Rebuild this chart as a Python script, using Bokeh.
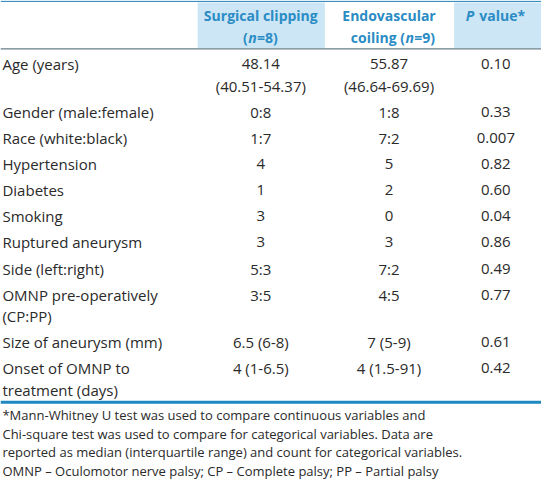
from bokeh.plotting import figure
from bokeh.models import Range1d
from bokeh.core.properties import value
from bokeh.embed import file_html
from bokeh.resources import INLINE

# ---------------- data ----------------
row_labels = ["Age (years)", "Gender (male:female)", "Race (white:black)", "Hypertension",
              "Diabetes", "Smoking", "Ruptured aneurysm", "Side (left:right)",
              "OMNP pre-operatively\n(CP:PP)", "Size of aneurysm (mm)",
              "Onset of OMNP to\ntreatment (days)"]
surgical = ["48.14\n(40.51-54.37)", "0:8", "1:7", "4", "1", "3", "3", "5:3", "3:5",
            "6.5 (6-8)", "4 (1-6.5)"]
endovascular = ["55.87\n(46.64-69.69)", "1:8", "7:2", "5", "2", "0", "3", "7:2", "4:5",
                "7 (5-9)", "4 (1.5-91)"]
p_values = ["0.10", "0.33", "0.007", "0.82", "0.60", "0.04", "0.86", "0.49", "0.77",
            "0.61", "0.42"]
group_line1 = ["Surgical clipping", "Endovascular"]
group_line2_prefix = ["(", "coiling ("]
group_n = ["8", "9"]
pvalue_header = ["P", "value*"]
footnote = ["*Mann-Whitney U test was used to compare continuous variables and",
            "Chi-square test was used to compare for categorical variables. Data are",
            "reported as median (interquartile range) and count for categorical variables.",
            "OMNP \u2013 Oculomotor nerve palsy; CP \u2013 Complete palsy; PP \u2013 Partial palsy"]

# ---------------- layout ----------------
W, H = 557, 498
FONT = value("Open Sans")
BODY = "#2a2a2a"
BLUE = "#2a8cc4"
SHADE = "#cde6f6"

p = figure(width=541, height=482, x_range=Range1d(0, W), y_range=Range1d(H, 0),
           x_axis_type=None, y_axis_type=None, output_backend="svg",
           toolbar_location=None, min_border=0)
p.grid.visible = False
p.outline_line_color = None
p.background_fill_color = "white"
p.border_fill_color = "white"

col_x = [268, 400, 510]

# header shading
p.quad(left=[203, 467], right=[334, W], top=[2, 2], bottom=[49, 49],
       fill_color=SHADE, line_color=None)
# rules
p.segment(x0=[0], y0=[1], x1=[W], y1=[1], line_color="#3b8fbf", line_width=1.2)
p.segment(x0=[0], y0=[50], x1=[W], y1=[50], line_color="#40606e", line_width=1)
p.segment(x0=[0], y0=[415], x1=[W], y1=[415], line_color="#1f88c0", line_width=3)

# header texts
hdr = dict(text_font=FONT, text_font_size="14px", text_color=BLUE,
           text_font_style="bold", text_baseline="middle")
p.text(x=col_x[:2], y=[16, 16], text=group_line1, text_align="center", **hdr)
n_x = [259, 421]
p.text(x=[nx - 4.5 for nx in n_x], y=[38, 38], text=group_line2_prefix,
       text_align="right", **hdr)
p.text(x=[nx - 4 for nx in n_x], y=[38, 38], text=["n", "n"], text_align="left",
       **{**hdr, "text_font_style": "bold italic"})
p.text(x=[nx + 5 for nx in n_x], y=[38, 38], text=["=" + n + ")" for n in group_n],
       text_align="left", **hdr)
p.text(x=[479], y=[16], text=[pvalue_header[0]], text_align="left",
       **{**hdr, "text_font_style": "bold italic"})
p.text(x=[493], y=[16], text=[pvalue_header[1]], text_align="left", **hdr)

# body rows
lx, ly, lt = [], [], []
vx, vy, vt = [], [], []
y = 66
for lab, s, e, pv in zip(row_labels, surgical, endovascular, p_values):
    nlines = 1
    for col, txt in ((None, lab), (0, s), (1, e), (2, pv)):
        parts = txt.split("\n")
        nlines = max(nlines, len(parts))
        for k, part in enumerate(parts):
            if col is None:
                lx.append(2); ly.append(y + 22 * k); lt.append(part)
            else:
                vx.append(col_x[col]); vy.append(y + 22 * k); vt.append(part)
    y += 27 + 22 * (nlines - 1)

body = dict(text_font=FONT, text_font_size="15px", text_color=BODY, text_baseline="middle")
p.text(x=lx, y=ly, text=lt, text_align="left", **body)
p.text(x=vx, y=vy, text=vt, text_align="center", **body)

# footnote
p.text(x=[2] * len(footnote), y=[428 + 19.5 * i for i in range(len(footnote))],
       text=footnote, text_align="left", text_font=FONT, text_font_size="13px",
       text_color=BODY, text_baseline="middle")

open("out.html", "w").write(file_html(p, INLINE))
